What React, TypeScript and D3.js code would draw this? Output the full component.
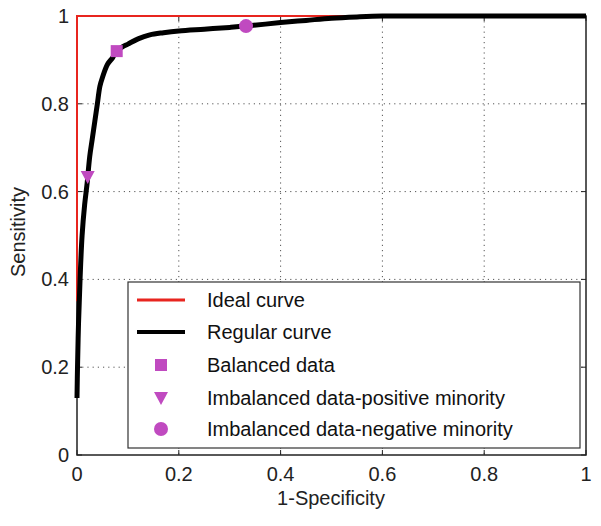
import React from "react";
import * as d3 from "d3";

const xTicks = [0, 0.2, 0.4, 0.6, 0.8, 1];
const yTicks = [0, 0.2, 0.4, 0.6, 0.8, 1];
const xTickLabels = ["0", "0.2", "0.4", "0.6", "0.8", "1"];
const yTickLabels = ["0", "0.2", "0.4", "0.6", "0.8", "1"];

const idealX = [0, 0, 1];
const idealY = [0.35, 1, 1];

const regularX = [0, 0.001, 0.003, 0.006, 0.01, 0.015, 0.02, 0.025, 0.03, 0.035, 0.04, 0.045, 0.05, 0.06, 0.07, 0.078, 0.09, 0.1, 0.12, 0.143, 0.17, 0.2, 0.25, 0.3, 0.332, 0.4, 0.45, 0.5, 0.55, 0.6, 0.7, 0.8, 0.9, 1];
const regularY = [0.13, 0.2, 0.3, 0.4, 0.5, 0.57, 0.62, 0.68, 0.72, 0.76, 0.8, 0.84, 0.86, 0.89, 0.905, 0.92, 0.93, 0.936, 0.948, 0.957, 0.962, 0.966, 0.97, 0.974, 0.977, 0.985, 0.99, 0.995, 0.998, 1, 1, 1, 1, 1];

const markerNames = ["Balanced data", "Imbalanced data-positive minority", "Imbalanced data-negative minority"];
const markerX = [0.078, 0.021, 0.332];
const markerY = [0.92, 0.633, 0.977];
const markerShapes = ["square", "triangle", "circle"];

const legendLabels = ["Ideal curve", "Regular curve", ...markerNames];

const W = 601, H = 526;
const left = 77, right = 586, top = 16, bottom = 455;
const FONT = "'Liberation Sans', Arial, Helvetica, sans-serif";
const MAG = "#c04ac0";

function Marker({ shape, cx, cy }: { shape: string; cx: number; cy: number }) {
  if (shape === "square") return <rect x={cx - 6} y={cy - 6} width={12} height={12} fill={MAG} />;
  if (shape === "circle") return <circle cx={cx} cy={cy} r={7} fill={MAG} />;
  const p = d3.path();
  p.moveTo(cx - 7, cy - 6);
  p.lineTo(cx + 7, cy - 6);
  p.lineTo(cx, cy + 7);
  p.closePath();
  return <path d={p.toString()} fill={MAG} />;
}

export default function App() {
  const x = d3.scaleLinear().domain([0, 1]).range([left, right]);
  const y = d3.scaleLinear().domain([0, 1]).range([bottom, top]);
  const line = d3.line<[number, number]>().x((d) => x(d[0])).y((d) => y(d[1]));
  const smooth = d3.line<[number, number]>().x((d) => x(d[0])).y((d) => y(d[1])).curve(d3.curveCatmullRom.alpha(0.5));
  const idealPts = idealX.map((v, i) => [v, idealY[i]] as [number, number]);
  const regPts = regularX.map((v, i) => [v, regularY[i]] as [number, number]);

  const lgX = 128, lgY = 282, lgW = 452, lgH = 166;
  const rowY = [300, 332, 365, 398, 429];

  return (
    <svg width={W} height={H} style={{ position: "absolute", left: 0, top: 0, background: "#fff" }} fontFamily={FONT}>
      <rect x={0} y={0} width={W} height={H} fill="#fff" />
      {/* grid */}
      {xTicks.slice(1, -1).map((t) => (
        <line key={"gx" + t} x1={x(t)} x2={x(t)} y1={top} y2={bottom} stroke="#555" strokeWidth={1} strokeDasharray="1.2,4" />
      ))}
      {yTicks.slice(1, -1).map((t) => (
        <line key={"gy" + t} y1={y(t)} y2={y(t)} x1={left} x2={right} stroke="#555" strokeWidth={1} strokeDasharray="1.2,4" />
      ))}
      {/* ticks inside on all sides */}
      {xTicks.map((t) => (
        <g key={"tx" + t}>
          <line x1={x(t)} x2={x(t)} y1={bottom} y2={bottom - 5} stroke="#222" />
          <line x1={x(t)} x2={x(t)} y1={top} y2={top + 5} stroke="#222" />
        </g>
      ))}
      {yTicks.map((t) => (
        <g key={"ty" + t}>
          <line y1={y(t)} y2={y(t)} x1={left} x2={left + 5} stroke="#222" />
          <line y1={y(t)} y2={y(t)} x1={right} x2={right - 5} stroke="#222" />
        </g>
      ))}
      {/* axes box */}
      <rect x={left} y={top} width={right - left} height={bottom - top} fill="none" stroke="#222" strokeWidth={1.5} />
      {/* curves */}
      <path d={line(idealPts) ?? ""} fill="none" stroke="#e8251f" strokeWidth={2} />
      <path d={smooth(regPts) ?? ""} fill="none" stroke="#000" strokeWidth={5} strokeLinejoin="round" />
      {markerX.map((v, i) => (
        <Marker key={i} shape={markerShapes[i]} cx={x(v)} cy={y(markerY[i])} />
      ))}
      {/* tick labels */}
      {xTicks.map((t, i) => (
        <text key={"lx" + t} x={x(t)} y={481} textAnchor="middle" fontSize={20} fill="#222">{xTickLabels[i]}</text>
      ))}
      {yTicks.map((t, i) => (
        <text key={"ly" + t} x={69} y={y(t) + 7} textAnchor="end" fontSize={20} fill="#222">{yTickLabels[i]}</text>
      ))}
      {/* axis titles */}
      <text x={331} y={505} textAnchor="middle" fontSize={20} fill="#222">1-Specificity</text>
      <text transform={`translate(25,232) rotate(-90)`} textAnchor="middle" fontSize={20} fill="#222">Sensitivity</text>
      {/* legend */}
      <rect x={lgX} y={lgY} width={lgW} height={lgH} fill="#fff" stroke="#333" strokeWidth={1.2} />
      <line x1={137} x2={185} y1={rowY[0]} y2={rowY[0]} stroke="#e8251f" strokeWidth={3} />
      <line x1={137} x2={185} y1={rowY[1]} y2={rowY[1]} stroke="#000" strokeWidth={4} />
      {markerShapes.map((s, i) => (
        <Marker key={"lm" + i} shape={s} cx={161} cy={rowY[i + 2]} />
      ))}
      {legendLabels.map((l, i) => (
        <text key={"lt" + i} x={207} y={rowY[i] + 7} fontSize={20} fill="#111">{l}</text>
      ))}
    </svg>
  );
}
